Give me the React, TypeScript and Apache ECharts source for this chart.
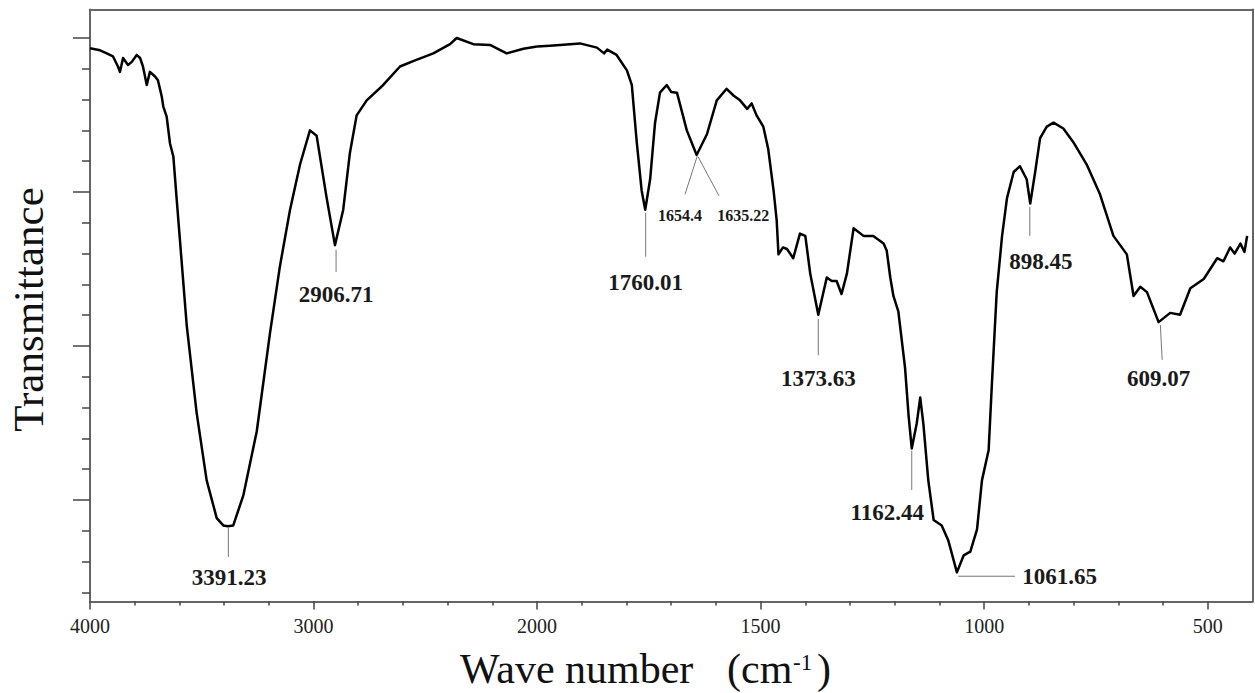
import React, { useEffect, useRef } from 'react';
import * as echarts from 'echarts';

// Spectrum (wave number in cm-1, transmittance in arbitrary %)
const wavenumbers = [
  4000, 3955, 3925, 3897, 3875, 3866, 3852, 3830, 3813, 3791, 3776, 3763, 3746, 3732, 3709, 3696,
  3679, 3672, 3657, 3642, 3627, 3612, 3567, 3523, 3478, 3433, 3404, 3383, 3359, 3314, 3254, 3195,
  3150, 3105, 3060, 3016, 2986, 2941, 2904, 2867, 2837, 2807, 2762, 2688, 2613, 2554, 2464, 2389,
  2359, 2285, 2210, 2136, 2061, 2000,
  1971, 1904, 1866, 1850, 1843, 1822, 1799, 1788, 1777, 1766, 1758, 1747, 1736, 1725, 1710, 1700,
  1687, 1665, 1643, 1620, 1598, 1576, 1560, 1546, 1530, 1520, 1509, 1494, 1483, 1471, 1464, 1460,
  1450, 1441, 1427, 1412, 1400, 1389, 1371, 1352, 1341, 1330, 1319, 1307, 1292, 1270, 1248, 1225,
  1218, 1210, 1203, 1192, 1177, 1169, 1162, 1151, 1143, 1136, 1125, 1113, 1095, 1080, 1061, 1046,
  1031, 1016, 1005, 990, 983, 972, 960, 949, 934, 920, 905, 897, 886, 875, 860, 845,
  823, 801, 771, 741, 711, 681, 666, 651, 636, 610, 584, 562, 539, 509, 479, 465,
  450, 440, 427, 418, 412,
];
const transmittance = [
  78.66, 78.4, 78.0, 77.6, 76.3, 75.6, 77.4, 76.5, 76.9, 77.8, 77.4, 76.3, 73.9, 75.6, 75.0, 74.5,
  72.4, 71.1, 69.8, 66.3, 64.6, 59.0, 42.6, 31.35, 22.55, 17.65, 16.7, 16.6, 16.7, 20.6, 28.9, 41.6,
  50.4, 57.7, 63.6, 68.0, 67.3, 59.2, 53.1, 57.7, 65.1, 69.95, 71.9, 73.9, 76.3, 77.0, 78.0, 79.2,
  80.0, 79.2, 79.1, 78.0, 78.6, 78.9,
  79.0, 79.3, 78.75, 78.0, 78.5, 77.8, 75.8, 73.9, 66.5, 60.2, 57.7, 61.65, 69.0, 72.9, 73.9, 73.0,
  72.9, 68.0, 64.8, 67.5, 71.9, 73.4, 72.5, 71.9, 70.8, 71.5, 69.95, 68.5, 65.6, 60.2, 56.3, 51.9,
  52.8, 52.6, 51.4, 54.6, 54.3, 49.4, 44.05, 48.9, 48.45, 48.45, 46.75, 49.4, 55.3, 54.3, 54.3, 53.3,
  52.4, 48.9, 46.5, 44.5, 37.2, 30.9, 26.7, 29.9, 33.3, 29.9, 22.55, 17.4, 16.7, 14.7, 10.6, 12.8,
  13.3, 16.2, 22.55, 26.5, 34.8, 47.0, 54.3, 59.2, 62.6, 63.35, 61.65, 58.5, 62.6, 67.0, 68.5, 69.0,
  68.25, 66.5, 63.6, 59.7, 54.3, 51.9, 46.5, 47.7, 47.0, 43.1, 44.3, 44.05, 47.5, 48.7, 51.4, 51.0,
  52.8, 52.0, 53.3, 52.2, 54.3,
];

// Axis ticks and labels
const xMajorHigh = [4000, 3000, 2000];
const xMinorHigh = [3800, 3600, 3400, 3200, 2800, 2600, 2400, 2200];
const xMajorLow = [1500, 1000, 500];
const xMinorLow = [1900, 1800, 1700, 1600, 1400, 1300, 1200, 1100, 900, 800, 700, 600];
const yMajor = [20, 40, 60, 80];
const yMinor = [8, 12, 16, 24, 28, 32, 36, 44, 48, 52, 56, 64, 68, 72, 76];

// Peak annotations (in data coordinates)
const peakNotes = [
  { text: '3391.23', from: [3381, 16.4], to: [3381, 12.6], at: [3378, 9.9], small: false, align: 'center' },
  { text: '2906.71', from: [2899, 52.5], to: [2899, 49.6], at: [2899, 46.75], small: false, align: 'center' },
  { text: '1760.01', from: [1757, 57.3], to: [1757, 51.6], at: [1757, 48.2], small: false, align: 'center' },
  { text: '1654.4', from: [1642, 64.6], to: [1669, 59.7], at: [1680, 56.9], small: true, align: 'center' },
  { text: '1635.22', from: [1640, 64.6], to: [1593, 59.5], at: [1539, 56.9], small: true, align: 'center' },
  { text: '1373.63', from: [1371, 43.5], to: [1371, 38.8], at: [1371, 35.8], small: false, align: 'center' },
  { text: '1162.44', from: [1162, 26.4], to: [1162, 21.3], at: [1217, 18.4], small: false, align: 'center' },
  { text: '1061.65', from: [1058, 10.1], to: [931, 10.1], at: [915, 10.1], small: false, align: 'left' },
  { text: '898.45', from: [898, 58.05], to: [898, 54.3], at: [873, 51.0], small: false, align: 'center' },
  { text: '609.07', from: [606, 42.7], to: [602, 38.2], at: [610, 35.8], small: false, align: 'center' },
];

const Y_MIN = 6.82;
const Y_MAX = 83.7;
const SERIF = '"Liberation Serif", "Times New Roman", serif';
const FRAME = '#666';

export default function App() {
  const ref = useRef<HTMLDivElement>(null);

  useEffect(() => {
    document.body.style.margin = '0';
    if (!ref.current) return;
    const chart = echarts.init(ref.current, undefined, { renderer: 'svg' });

    const points = wavenumbers.map((w, i) => [w, transmittance[i]]);
    const highData = points.filter((p) => p[0] >= 2000);
    const lowData = points.filter((p) => p[0] <= 2000);

    const frameLine = { show: true, onZero: false, lineStyle: { color: FRAME, width: 2 } };
    const noLine = { show: false };
    const tickStyle = { color: '#444', width: 1.5 };
    const plain = (v: number) => String(v);

    const xBase = (gridIndex: number, min: number, max: number) => ({
      type: 'value', gridIndex, min, max, inverse: true,
      splitLine: { show: false },
    });

    const option: any = {
      animation: false,
      backgroundColor: '#fff',
      grid: [
        { left: 90, top: 9.5, width: 447, bottom: 91.5, outerBoundsMode: 'none', containLabel: false },
        { left: 537, top: 9.5, width: 715.5, bottom: 91.5, outerBoundsMode: 'none', containLabel: false },
      ],
      xAxis: [
        {
          ...xBase(0, 2000, 4000), position: 'bottom', axisLine: frameLine,
          axisTick: { show: true, customValues: xMajorHigh, length: 8, inside: false, lineStyle: tickStyle },
          axisLabel: {
            show: true, customValues: xMajorHigh, margin: 14, color: '#222', fontSize: 20,
            fontFamily: SERIF, showMinLabel: true, showMaxLabel: true, hideOverlap: false, formatter: plain,
          },
        },
        {
          ...xBase(0, 2000, 4000), position: 'bottom', axisLine: noLine,
          axisTick: { show: true, customValues: xMinorHigh, length: 4, inside: false, lineStyle: tickStyle },
          axisLabel: { show: false },
        },
        {
          ...xBase(0, 2000, 4000), position: 'top', axisLine: frameLine,
          axisTick: { show: false }, axisLabel: { show: false },
        },
        {
          ...xBase(1, 400, 2000), position: 'bottom', axisLine: frameLine,
          axisTick: { show: true, customValues: xMajorLow, length: 8, inside: false, lineStyle: tickStyle },
          axisLabel: {
            show: true, customValues: xMajorLow, margin: 14, color: '#222', fontSize: 20,
            fontFamily: SERIF, hideOverlap: false, formatter: plain,
          },
        },
        {
          ...xBase(1, 400, 2000), position: 'bottom', axisLine: noLine,
          axisTick: { show: true, customValues: xMinorLow, length: 4, inside: false, lineStyle: tickStyle },
          axisLabel: { show: false },
        },
        {
          ...xBase(1, 400, 2000), position: 'top', axisLine: frameLine,
          axisTick: { show: false }, axisLabel: { show: false },
        },
      ],
      yAxis: [
        {
          type: 'value', gridIndex: 0, min: Y_MIN, max: Y_MAX, position: 'left',
          axisLine: frameLine, splitLine: { show: false },
          axisTick: { show: true, customValues: yMajor, length: 17, inside: false, lineStyle: tickStyle },
          axisLabel: { show: false },
        },
        {
          type: 'value', gridIndex: 0, min: Y_MIN, max: Y_MAX, position: 'left',
          axisLine: noLine, splitLine: { show: false },
          axisTick: { show: true, customValues: yMinor, length: 8, inside: false, lineStyle: tickStyle },
          axisLabel: { show: false },
        },
        {
          type: 'value', gridIndex: 1, min: Y_MIN, max: Y_MAX, position: 'right',
          axisLine: frameLine, splitLine: { show: false },
          axisTick: { show: false }, axisLabel: { show: false },
        },
      ],
      series: [
        {
          type: 'line', xAxisIndex: 0, yAxisIndex: 0, data: highData,
          showSymbol: false, symbol: 'none', smooth: false,
          lineStyle: { color: '#000', width: 2.5, join: 'round' }, silent: true,
        },
        {
          type: 'line', xAxisIndex: 3, yAxisIndex: 2, data: lowData,
          showSymbol: false, symbol: 'none', smooth: false,
          lineStyle: { color: '#000', width: 2.5, join: 'round' }, silent: true,
        },
      ],
    };

    chart.setOption(option);

    const toPx = (p: number[]) =>
      chart.convertToPixel({ seriesIndex: p[0] >= 2000 ? 0 : 1 }, p) as number[];

    const graphics: any[] = [];
    peakNotes.forEach((n) => {
      const a = toPx(n.from);
      const b = toPx(n.to);
      const t = toPx(n.at);
      graphics.push({
        type: 'line', silent: true,
        shape: { x1: a[0], y1: a[1], x2: b[0], y2: b[1] },
        style: { stroke: '#777', lineWidth: 1 },
      });
      graphics.push({
        type: 'text', silent: true, x: t[0], y: t[1],
        style: {
          text: n.text,
          font: `bold ${n.small ? 16 : 23}px ${SERIF}`,
          fill: '#1a1a1a',
          align: n.align, textAlign: n.align,
          verticalAlign: 'middle', textVerticalAlign: 'middle',
        },
      });
    });

    // Axis titles
    graphics.push({
      type: 'text', silent: true, x: 28.5, y: 309.5, rotation: Math.PI / 2,
      style: {
        text: 'Transmittance', font: `43px ${SERIF}`, fill: '#111',
        align: 'center', textAlign: 'center', verticalAlign: 'middle', textVerticalAlign: 'middle',
      },
    });
    graphics.push({
      type: 'text', silent: true, x: 460, y: 669,
      style: {
        text: 'Wave number', font: `42px ${SERIF}`, fill: '#111',
        align: 'left', textAlign: 'left', verticalAlign: 'middle', textVerticalAlign: 'middle',
      },
    });
    graphics.push({
      type: 'text', silent: true, x: 727, y: 669,
      style: {
        text: '(cm', font: `42px ${SERIF}`, fill: '#111',
        align: 'left', textAlign: 'left', verticalAlign: 'middle', textVerticalAlign: 'middle',
      },
    });
    graphics.push({
      type: 'text', silent: true, x: 793, y: 662,
      style: {
        text: '-1', font: `23px ${SERIF}`, fill: '#111',
        align: 'left', textAlign: 'left', verticalAlign: 'middle', textVerticalAlign: 'middle',
      },
    });
    graphics.push({
      type: 'text', silent: true, x: 817, y: 669,
      style: {
        text: ')', font: `42px ${SERIF}`, fill: '#111',
        align: 'left', textAlign: 'left', verticalAlign: 'middle', textVerticalAlign: 'middle',
      },
    });

    chart.setOption({ graphic: graphics });

    return () => {
      chart.dispose();
    };
  }, []);

  return <div ref={ref} style={{ width: 1255, height: 693, background: '#fff' }} />;
}
